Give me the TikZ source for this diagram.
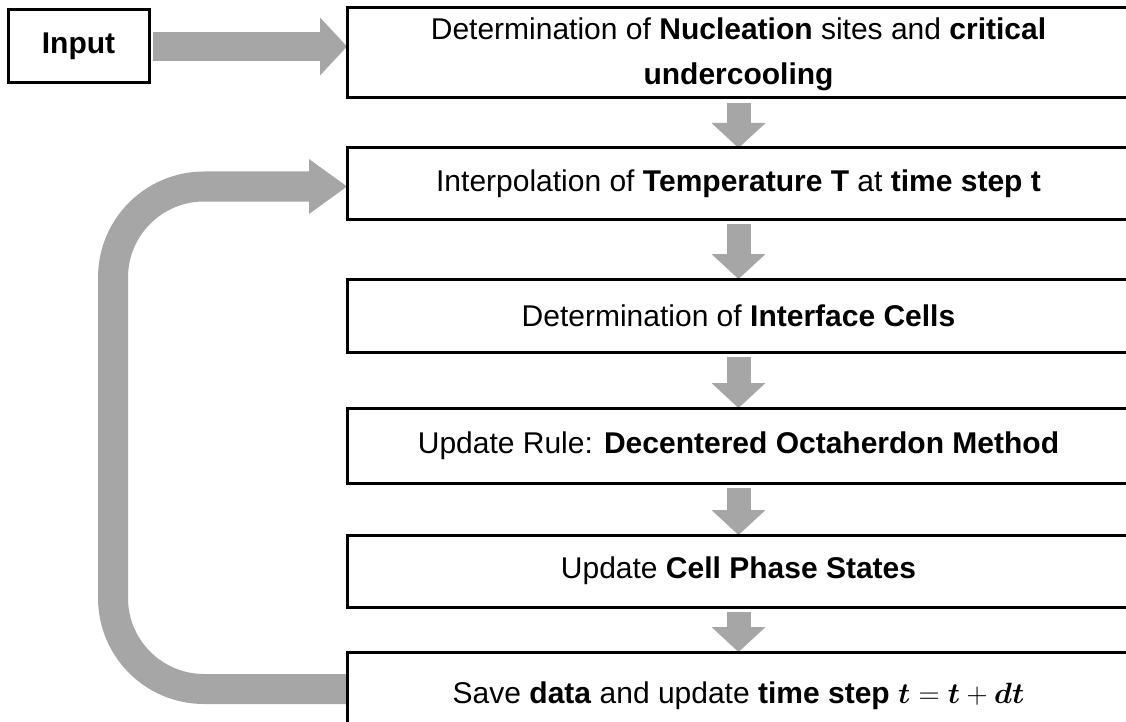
\documentclass[tikz,border=0pt]{standalone}
\usepackage{amsmath}
\usepackage{bm}
\usepackage{fontspec}
\setmainfont{Liberation Sans}
\usetikzlibrary{arrows.meta,calc,backgrounds}
\definecolor{arrowgray}{HTML}{A6A6A6}
\newcommand{\bigmath}[1]{{\fontsize{24.88}{30}\selectfont\scalebox{1.18}{$#1$}}}
\begin{document}
\begin{tikzpicture}[x=1pt,y=-1pt,
  box/.style={draw=black, line width=3pt, fill=white, minimum width=783pt,
    inner sep=0pt, outer sep=0pt, anchor=north west, align=center,
    font=\fontsize{30}{45}\selectfont},
  inbox/.style={draw=black, line width=3pt, fill=white, minimum width=141pt,
    minimum height=73pt, inner sep=0pt, outer sep=0pt, anchor=north west,
    font=\fontsize{30}{36}\selectfont\bfseries},
  flow/.style={draw=arrowgray, line width=24pt,
    -{Triangle[length=25pt,width=54pt,line width=0pt]}, shorten <=5pt},
  sidearrow/.style={draw=arrowgray, line width=29pt,
    -{Triangle[length=27pt,width=58pt,line width=0pt]}, shorten <=4pt},
  looparrow/.style={draw=arrowgray, line width=30pt, rounded corners=91pt,
    -{Triangle[length=38pt,width=55pt,line width=0pt]}}
]
\useasboundingbox (0,0) rectangle (1126,722);

\node[inbox] (input) at (8,10) {Input};
\node[box, minimum height=88pt] (nuc) at (347,8)
  {\raisebox{-4pt}{\begin{tabular}{@{}c@{}}Determination of \textbf{Nucleation} sites and \textbf{critical}\\ \textbf{undercooling}\end{tabular}}};
\node[box, minimum height=71pt] (interp) at (347,148)
  {Interpolation of \textbf{Temperature T} at \textbf{time step t}};
\node[box, minimum height=73pt] (iface) at (347,279)
  {Determination of \textbf{Interface Cells}};
\node[box, minimum height=75pt] (rule) at (347,408)
  {Update Rule: \textbf{Decentered Octaherdon Method}};
\node[box, minimum height=72pt] (phase) at (347,535)
  {Update \textbf{Cell Phase States}};
\node[box, minimum height=88pt] (save) at (347,652)
  {Save \textbf{data} and update \textbf{time step} \bigmath{\bm{t} = \bm{t} + \bm{dt}}};

\coordinate (loopstart) at ($(save.west)+(0,-7)$);
\coordinate (loopx) at (113,400);

\begin{pgfonlayer}{background}
  \fill[white] (0,0) rectangle (1126,722);
  \draw[sidearrow] (input.east) -- (input.east -| nuc.west);
  \draw[flow] (nuc) -- (interp);
  \draw[flow] (interp) -- (iface);
  \draw[flow] (iface) -- (rule);
  \draw[flow] (rule) -- (phase);
  \draw[flow] (phase) -- (save);
  \draw[looparrow] (loopstart) -| (loopx) |- ($(interp.west)+(0,3)$);
\end{pgfonlayer}
\end{tikzpicture}
\end{document}
